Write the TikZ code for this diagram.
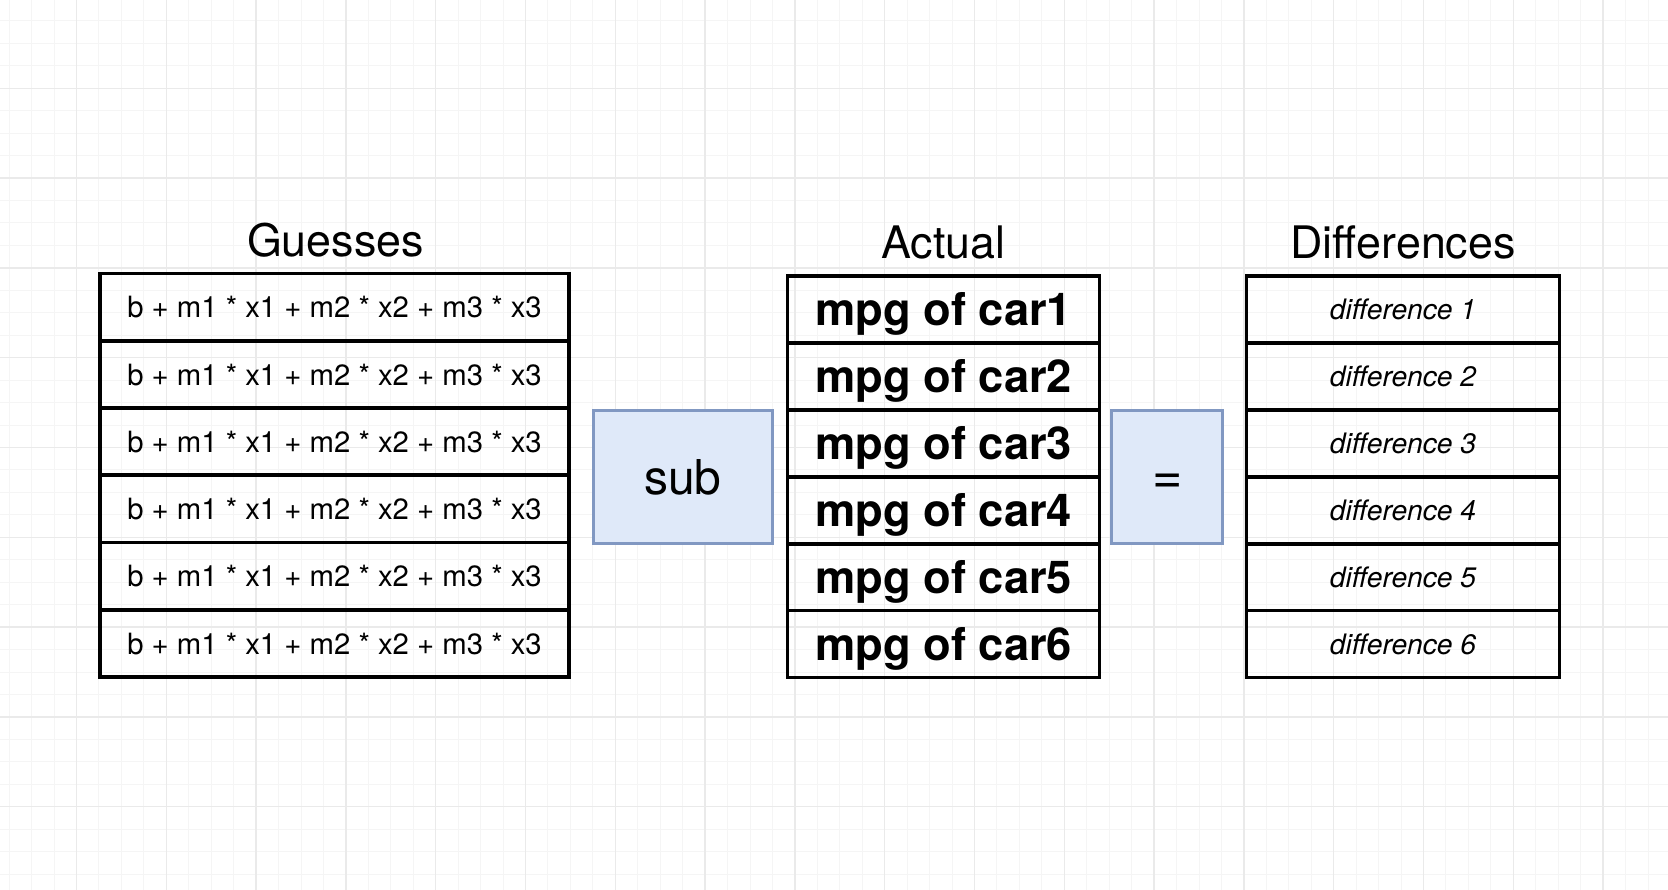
\documentclass[tikz,border=0pt]{standalone}
\usepackage{fontspec}
\setmainfont{TeX Gyre Heros}
\definecolor{gridmajor}{HTML}{EAEAEA}
\definecolor{gridminor}{HTML}{F5F5F5}
\definecolor{opfill}{HTML}{DFE9F9}
\definecolor{opdraw}{HTML}{8198C2}
\tikzset{
  minorline/.style={gridminor, line width=1pt},
  majorline/.style={gridmajor, line width=1.3pt},
  cellbox/.style={draw=black, line width=3.7pt, inner sep=0pt, text depth=0pt, align=center},
  guesscell/.style={cellbox, minimum width=469pt, minimum height=67.25pt, font=\fontsize{29.3}{34}\selectfont},
  actualcell/.style={cellbox, minimum width=312pt, minimum height=66.92pt, font=\fontsize{45.3}{52}\selectfont\bfseries},
  diffcell/.style={cellbox, minimum width=313pt, minimum height=66.92pt, font=\fontsize{28.2}{32}\selectfont\itshape},
  opbox/.style={draw=opdraw, fill=opfill, line width=3pt, inner sep=0pt, minimum height=133pt},
  titletext/.style={anchor=base, inner sep=0pt, font=\fontsize{44.8}{50}\selectfont}
}
\begin{document}
\begin{tikzpicture}[x=1pt, y=-1pt]
\useasboundingbox (0,0) rectangle (1668,890);
\fill[white] (0,0) rectangle (1668,890);
% grid
\foreach \i in {0,...,74} {\draw[minorline] ({9.15+22.45*\i},0) -- ++(0,890);}
\foreach \i in {0,...,38} {\draw[minorline] (0,{20.95+22.45*\i}) -- ++(1668,0);}
\foreach \i in {0,...,17} {\draw[majorline] ({76.5+89.8*\i},0) -- ++(0,890);}
\foreach \i in {0,...,8} {\draw[majorline] (0,{88.3+89.8*\i}) -- ++(1668,0);}
% titles
\node[titletext] (tg) at (335.5,257) {Guesses};
\node[titletext] (ta) at (943.5,258.5) {Actual};
\node[titletext] (td) at (1403,259) {Differences};
% columns
\foreach \i in {1,...,6} {
  \node[guesscell] (g\i) at (334.5,{273.5+(\i-0.5)*67.25}) {b + m1 * x1 + m2 * x2 + m3 * x3};
  \node[actualcell] (a\i) at (943.5,{276+(\i-0.5)*66.92}) {mpg of car\i};
  \node[diffcell] (d\i) at (1403,{276+(\i-0.5)*66.92}) {difference \i};
}
% operators
\node[opbox, minimum width=178.5pt] (sub) at (682.75,477) {};
\node[inner sep=0pt, text depth=0pt, font=\fontsize{48}{54}\selectfont] (subt) at (sub.center) {sub};
\node[opbox, minimum width=111pt] (eq) at (1166.5,477) {};
\node[inner sep=0pt, font=\fontsize{52}{58}\selectfont] (eqt) at (1168,484) {=};
\end{tikzpicture}
\end{document}
